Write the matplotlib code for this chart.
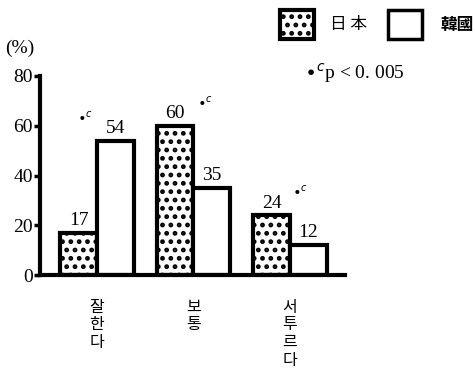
import matplotlib
matplotlib.use("Agg")
import matplotlib.pyplot as plt
import numpy as np
from matplotlib.patches import Rectangle

categories = ["잘\n한\n다", "보\n통", "서\n투\n르\n다"]
japan = [17, 60, 24]
korea = [54, 35, 12]
yticks = [0, 20, 40, 60, 80]
# groups carrying the *c mark and where the mark sits next to the bars
sig_groups = [0, 1, 2]
sig_dx = [-0.12, 0.12, 0.10]

plt.rcParams["hatch.linewidth"] = 2.2
serif = ["Liberation Serif", "DejaVu Serif"]
cjk = ["Noto Sans CJK KR", "DejaVu Sans"]

fig = plt.figure(figsize=(4.75, 3.73), dpi=100)
ax = fig.add_axes([40 / 475, 1 - 275 / 373, 305 / 475, 199 / 373])

x = np.arange(len(categories))
w = 0.38
ax.bar(x - w / 2, japan, w, color="white", edgecolor="black", linewidth=3,
       hatch="..", zorder=2)
ax.bar(x + w / 2, korea, w, color="white", edgecolor="black", linewidth=3,
       zorder=2)

for i in range(len(x)):
    ax.text(x[i] - w / 2, japan[i] + 1.5, str(japan[i]), ha="center", va="bottom",
            fontsize=14, family=serif)
    ax.text(x[i] + w / 2, korea[i] + 1.5, str(korea[i]), ha="center", va="bottom",
            fontsize=14, family=serif)

for i, dx in zip(sig_groups, sig_dx):
    top = max(japan[i], korea[i])
    ax.text(x[i] + dx, top + 7, r"$\bullet^{c}$", ha="center", va="bottom",
            fontsize=10)

ax.set_xlim(-0.59, 2.57)
ax.set_ylim(0, 80)
ax.set_yticks(yticks)
ax.set_yticklabels([str(t) for t in yticks], family=serif, fontsize=14)
ax.set_xticks(x)
ax.set_xticklabels(categories, family=cjk, fontsize=11.5, linespacing=1.05,
                   va="top")
ax.tick_params(axis="x", length=0, pad=17)
ax.tick_params(axis="y", length=4, width=2.5, direction="out", pad=1)
ax.spines["top"].set_visible(False)
ax.spines["right"].set_visible(False)
ax.spines["left"].set_linewidth(3)
ax.spines["bottom"].set_linewidth(3)

fig.text(5 / 475, 1 - 48 / 373, "(%)", family=serif, fontsize=14,
         ha="left", va="center")

# legend
fig.patches.append(Rectangle((280 / 475, 1 - 39 / 373), 34 / 475, 29 / 373,
                             transform=fig.transFigure, facecolor="white",
                             edgecolor="black", linewidth=3, hatch=".."))
fig.text(330 / 475, 1 - 25 / 373, "日 本", family=cjk, fontsize=12,
         ha="left", va="center")
fig.patches.append(Rectangle((388 / 475, 1 - 39 / 373), 34 / 475, 29 / 373,
                             transform=fig.transFigure, facecolor="white",
                             edgecolor="black", linewidth=2.5))
fig.text(440 / 475, 1 - 25 / 373, "韓國", family=cjk, fontsize=12,
         ha="left", va="center", fontweight="bold")
fig.text(304 / 475, 1 - 73 / 373, r"$\bullet^{c}$p < 0. 005", family=serif,
         fontsize=14, ha="left", va="center")

fig.savefig("out.png", dpi=100)
